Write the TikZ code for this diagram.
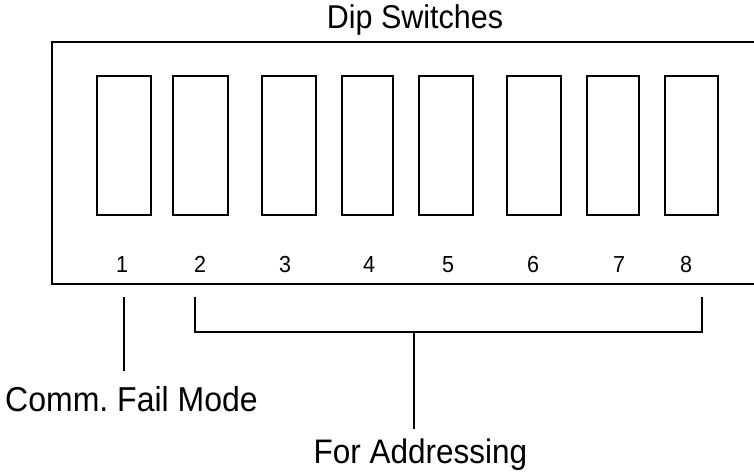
\documentclass[tikz,border=0pt]{standalone}
\usepackage{fontspec}
\usepackage{graphicx}
\setmainfont{Liberation Sans}
\frenchspacing
\newcommand{\tallertext}[1]{\scalebox{1}[1.08]{#1}}
\begin{document}
\begin{tikzpicture}[x=1pt,y=-1pt,
  swbox/.style={draw, line width=1.4pt, inner sep=0pt, minimum height=139pt, minimum width=#1},
  digit/.style={anchor=base, inner sep=0pt, font=\fontsize{21.5}{24}\selectfont},
  lbl/.style={anchor=base, inner sep=0pt, font=\fontsize{#1}{36}\selectfont},
  wire/.style={line width=1.5pt},
  frame/.style={line width=1.7pt}]
\useasboundingbox (0,0) rectangle (754,472);
% title
\node[lbl=30.5] (title) at (415,28) {\tallertext{Dip Switches}};
% outer housing (open to the right edge)
\draw[frame] (754,42) -- (52,42) -- (52,284) -- (754,284);
% switches
\node[swbox=54pt] (s1) at (124,145.5) {};
\node[swbox=55pt] (s2) at (200.5,145.5) {};
\node[swbox=54pt] (s3) at (289,145.5) {};
\node[swbox=51pt] (s4) at (367.5,145.5) {};
\node[swbox=54pt] (s5) at (446,145.5) {};
\node[swbox=54pt] (s6) at (534,145.5) {};
\node[swbox=52pt] (s7) at (613,145.5) {};
\node[swbox=53pt] (s8) at (691.5,145.5) {};
% numbers
\node[digit] (n1) at (122,272) {\tallertext{1}};
\node[digit] (n2) at (200,272) {\tallertext{2}};
\node[digit] (n3) at (285,272) {\tallertext{3}};
\node[digit] (n4) at (369,272) {\tallertext{4}};
\node[digit] (n5) at (448,272) {\tallertext{5}};
\node[digit] (n6) at (533,272) {\tallertext{6}};
\node[digit] (n7) at (619,272) {\tallertext{7}};
\node[digit] (n8) at (686,272) {\tallertext{8}};
% labels
\node[lbl=32] (comm) at (131.5,411) {\tallertext{Comm.\ Fail Mode}};
\node[lbl=31.5] (addr) at (420.5,463) {\tallertext{For Addressing}};
% connector coordinates
\coordinate (c1top) at (124,297);
\coordinate (c1bot) at (124,371);
\coordinate (bl) at (195,297);
\coordinate (blc) at (195,332);
\coordinate (br) at (702,297);
\coordinate (brc) at (702,332);
\coordinate (bm) at (414,332);
\coordinate (bmbot) at (414,429);
% connectors
\draw[wire] (c1top) -- (c1bot);
\draw[wire] (bl) -- (blc) -- (brc) -- (br);
\draw[wire] (bm) -- (bmbot);
\end{tikzpicture}
\end{document}
